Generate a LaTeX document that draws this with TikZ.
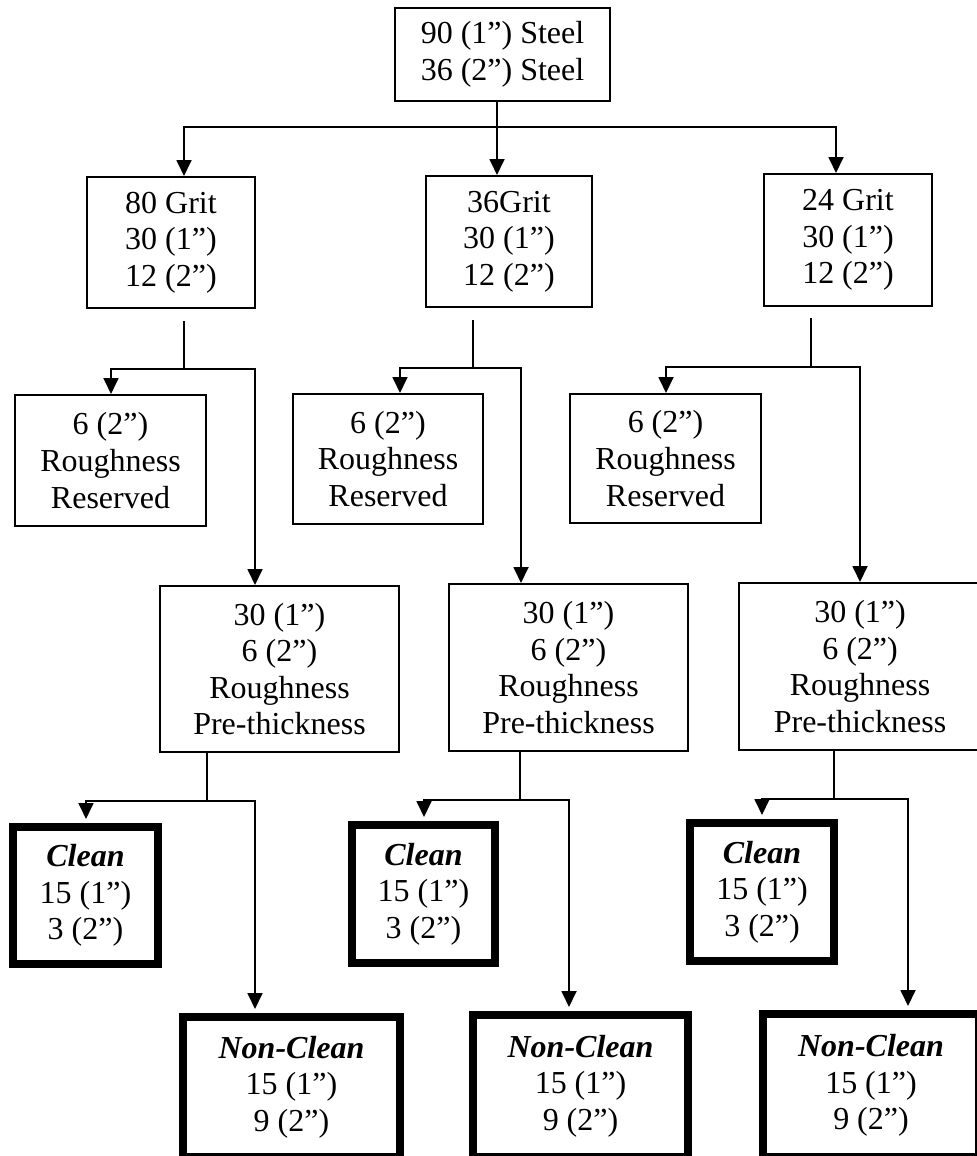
\documentclass[tikz,border=0pt]{standalone}
\usepackage{fontspec}
\setmainfont{Liberation Serif}
\usetikzlibrary{arrows.meta}
\newcommand\mybox[7]{%
  \pgfmathsetmacro\mbw{(#5-#3)/2}%
  \pgfmathsetmacro\mbh{(#6-#4)/2}%
  \node[#1, minimum width=\mbw pt, minimum height=\mbh pt] (#2) at ({(#3+#5)/2},{(#4+#6)/2}) {#7};%
}
\tikzset{
  thinbox/.style={draw, line width=1pt, inner sep=0pt, align=center, font=\fontsize{16}{18.3}\selectfont},
  thickbox/.style={thinbox, line width=4pt},
  conn/.style={line width=0.9pt},
  arr/.style={conn, -{Triangle[length=8pt,width=7.5pt]}},
  arrk/.style={arr, shorten >=2pt},
}
\newcommand\cl[1]{\textbf{\textit{#1}}}
\begin{document}
\begin{tikzpicture}[x=0.5pt,y=-0.5pt]
\useasboundingbox (0,0) rectangle (976,1156);
% top
\mybox{thinbox}{top}{395}{8}{610}{101}{90 (1”) Steel\\36 (2”) Steel}
% row 2
\mybox{thinbox}{g1}{87}{177}{255}{308}{80 Grit\\30 (1”)\\12 (2”)}
\mybox{thinbox}{g2}{426}{176}{592}{307}{36Grit\\30 (1”)\\12 (2”)}
\mybox{thinbox}{g3}{764}{174}{932}{306}{24 Grit\\30 (1”)\\12 (2”)}
% row 3
\mybox{thinbox}{r1}{15}{395}{206}{526}{6 (2”)\\Roughness\\Reserved}
\mybox{thinbox}{r2}{293}{394}{483}{524}{6 (2”)\\Roughness\\Reserved}
\mybox{thinbox}{r3}{570}{394}{761}{523}{6 (2”)\\Roughness\\Reserved}
% row 4
\mybox{thinbox}{p1}{160}{586}{399}{752}{30 (1”)\\6 (2”)\\Roughness\\Pre-thickness}
\mybox{thinbox}{p2}{449}{584}{688}{751}{30 (1”)\\6 (2”)\\Roughness\\Pre-thickness}
\mybox{thinbox}{p3}{739}{583}{981}{750}{30 (1”)\\6 (2”)\\Roughness\\Pre-thickness}
% row 5
\mybox{thickbox}{c1}{13}{827}{158}{964}{\cl{Clean}\\15 (1”)\\3 (2”)}
\mybox{thickbox}{c2}{352}{825}{495}{963}{\cl{Clean}\\15 (1”)\\3 (2”)}
\mybox{thickbox}{c3}{690}{823}{834}{961}{\cl{Clean}\\15 (1”)\\3 (2”)}
% row 6
\mybox{thickbox}{n1}{183}{1017}{400}{1157}{\cl{Non-Clean}\\15 (1”)\\9 (2”)}
\mybox{thickbox}{n2}{473}{1015}{688}{1157}{\cl{Non-Clean}\\15 (1”)\\9 (2”)}
\mybox{thickbox}{n3}{763}{1014}{979}{1157}{\cl{Non-Clean}\\15 (1”)\\9 (2”)}
% connectors from top
\coordinate (j0) at (497,127);
\draw[conn] (top.south -| j0) -- (j0);
\draw[arr] (j0) -- (g2.north -| j0);
\draw[arr] (j0) -| (g1.north -| 184,0);
\draw[arr] (j0) -| (g3.north -| 836,0);
% row 2 branches
\coordinate (j1) at (184,369);
\coordinate (j2) at (473,368);
\coordinate (j3) at (811,367);
\draw[conn, shorten <=6pt] (g1.south -| j1) -- (j1);
\draw[conn, shorten <=6pt] (g2.south -| j2) -- (j2);
\draw[conn, shorten <=5.5pt] (g3.south -| j3) -- (j3);
\draw[arr] (j1) -| (r1.north -| 111,0);
\draw[arr] (j1) -| (p1.north -| 255,0);
\draw[arr] (j2) -| (r2.north -| 400,0);
\draw[arr] (j2) -| (p2.north -| 521,0);
\draw[arr] (j3) -| (r3.north -| 666,0);
\draw[arr] (j3) -| (p3.north -| 860,0);
% row 4 branches
\coordinate (k1) at (207,801);
\coordinate (k2) at (520,800);
\coordinate (k3) at (834,799);
\draw[conn] (p1.south -| k1) -- (k1);
\draw[conn] (p2.south -| k2) -- (k2);
\draw[conn] (p3.south -| k3) -- (k3);
\draw[arrk] (k1) -| (c1.north -| 86,0);
\draw[arrk] (k1) -| (n1.north -| 255,0);
\draw[arrk] (k2) -| (c2.north -| 424,0);
\draw[arrk] (k2) -| (n2.north -| 569,0);
\draw[arrk] (k3) -| (c3.north -| 762,0);
\draw[arrk] (k3) -| (n3.north -| 908,0);
\end{tikzpicture}
\end{document}
